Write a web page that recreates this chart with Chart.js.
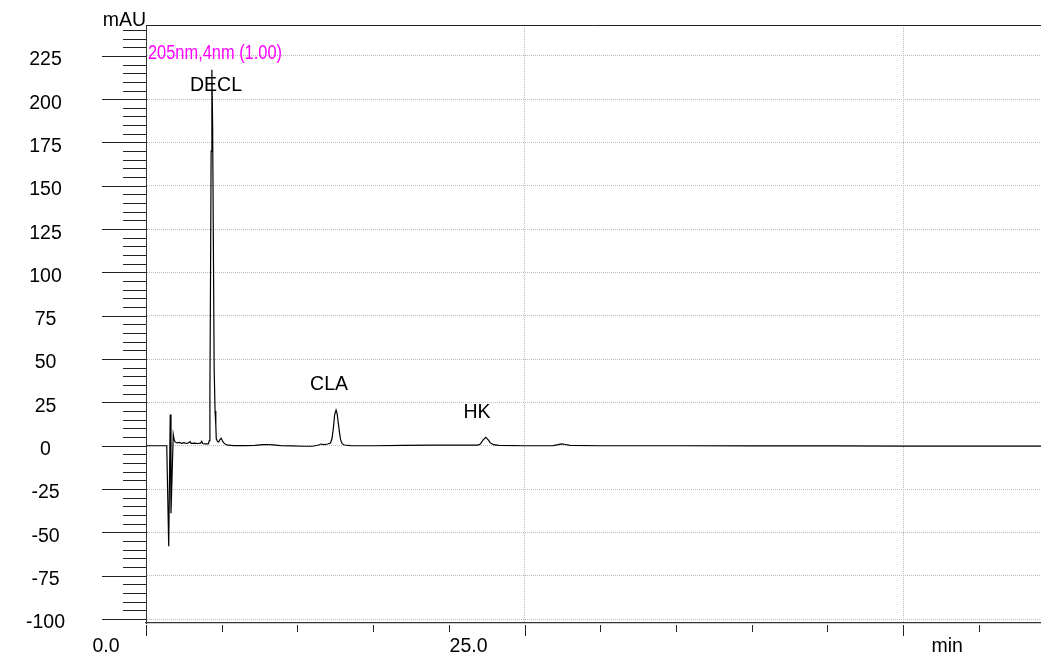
<!DOCTYPE html>
<html>
<head>
<meta charset="utf-8">
<script src="https://cdn.jsdelivr.net/npm/chart.js@4.4.1/dist/chart.umd.min.js"></script>
<style>
  html, body { margin: 0; padding: 0; background: #fff; }
  #chromatogram { display: block; }
</style>
</head>
<body>
<canvas id="chromatogram" width="1041" height="658"></canvas>
<script>
// retention time (min) and detector signal (mAU)
const retentionTime = [
    0, 1.30, 1.37, 1.50, 1.60, 1.65, 1.80, 1.86, 1.92, 2.05, 2.2, 2.35, 2.5, 2.65, 2.8, 2.91, 2.98,
    3.2, 3.4, 3.6, 3.68, 3.74, 3.9, 4.12, 4.18, 4.22, 4.26, 4.30, 4.35, 4.40, 4.45, 4.50, 4.56,
    4.61, 4.64, 4.72, 4.80, 4.88, 4.96, 5.04, 5.12, 5.25, 5.4, 5.8, 6.5, 7.2, 7.7, 8.0, 8.4, 8.9,
    9.6, 10.4, 11.0, 11.4, 11.55, 11.75, 12.0, 12.18, 12.28, 12.37, 12.46, 12.55, 12.62, 12.70,
    12.77, 12.85, 12.95, 13.1, 13.5, 15, 17, 19, 21, 21.9, 22.08, 22.25, 22.44, 22.6, 22.75,
    22.95, 23.3, 25, 26.9, 27.2, 27.45, 27.7, 28.0, 30, 35, 40, 45, 50, 55, 59.1
];
const absorbance = [
    0, 0, 0, -58, 18, -39, 6.5, 3.5, 2.2, 1.6, 1.9, 1.4, 1.8, 1.3, 1.6, 2.4, 1.4,
    1.5, 1.3, 1.5, 2.6, 1.3, 1.1, 1.1, 3, 30, 95, 170, 217, 185, 115, 45, 20,
    12, 4, 2.5, 2.2, 3.5, 4.3, 3.0, 1.8, 0.8, 0.3, 0.1, 0.1, 0.2, 0.6, 0.7, 0.5, 0.1,
    -0.1, -0.3, -0.3, 0.4, 1.0, 0.7, 1.0, 1.6, 4, 10, 18, 20.6, 18.5, 13,
    8, 3.5, 1.2, 0.4, 0.1, 0, 0.2, 0.3, 0.3, 0.4, 1, 3.2, 4.8, 3.4, 1.5,
    0.6, 0.2, 0, 0.1, 0.6, 1.1, 0.7, 0.2, 0, 0, -0.1, -0.1, -0.2, -0.2, -0.2
];

const peakNames = ['DECL', 'CLA', 'HK'];
const peakLabelTime = [4.62, 12.09, 21.86];
const peakLabelValue = [207.6, 35, 19.3];

const yTickLabels = ['-100', '-75', '-50', '-25', '0', '25', '50', '75', '100', '125', '150', '175', '200', '225'];
const xTickLabels = ['0.0', '25.0', 'min'];
const xTickValues = [0, 25, 50];
const channelLabel = '205nm,4nm (1.00)';
const yUnit = 'mAU';

const FONT = 'Liberation Sans, Arial, sans-serif';
const GRID = '#bdbdbd';

const points = retentionTime.map((t, i) => ({ x: t, y: absorbance[i] }));

const decorations = {
    id: 'decorations',
    afterDraw(chart) {
        const ctx = chart.ctx;
        const area = chart.chartArea;
        const xs = chart.scales.x;
        const ys = chart.scales.y;
        ctx.save();
        ctx.strokeStyle = '#222';
        ctx.lineWidth = 1;

        // top frame line
        ctx.beginPath();
        ctx.moveTo(area.left, area.top + 0.5);
        ctx.lineTo(area.right, area.top + 0.5);
        ctx.stroke();

        // y ticks, long every 25, short every 5
        ys.ticks.forEach(tk => {
            const py = Math.round(ys.getPixelForValue(tk.value)) + 0.5;
            const len = tk.value % 25 === 0 ? 44 : 23;
            ctx.beginPath();
            ctx.moveTo(area.left - len, py);
            ctx.lineTo(area.left, py);
            ctx.stroke();
        });

        // x ticks below the axis
        xs.ticks.forEach(tk => {
            const px = Math.round(xs.getPixelForValue(tk.value)) + 0.5;
            const len = tk.value % 25 === 0 ? 11 : 7;
            ctx.beginPath();
            ctx.moveTo(px, area.bottom + 2);
            ctx.lineTo(px, area.bottom + 2 + len);
            ctx.stroke();
        });

        ctx.fillStyle = '#000';
        ctx.font = '19.5px ' + FONT;
        ctx.textBaseline = 'middle';

        // x labels sit beside their ticks, like the instrument printout
        const xShift = [-40, -56, 44];
        ctx.textAlign = 'center';
        xTickLabels.forEach((txt, i) => {
            ctx.fillText(txt, xs.getPixelForValue(xTickValues[i]) + xShift[i], area.bottom + 24);
        });

        ctx.textAlign = 'right';
        ctx.fillText(yUnit, area.left, area.top - 4);

        // peak names
        ctx.textAlign = 'center';
        peakNames.forEach((name, i) => {
            ctx.fillText(name, xs.getPixelForValue(peakLabelTime[i]), ys.getPixelForValue(peakLabelValue[i]));
        });

        // channel label in a condensed face
        ctx.fillStyle = '#ff00ff';
        ctx.font = '20px ' + FONT;
        ctx.textAlign = 'left';
        ctx.translate(area.left + 2, area.top + 28);
        ctx.scale(0.82, 1);
        ctx.fillText(channelLabel, 0, 0);
        ctx.restore();
    }
};

new Chart(document.getElementById('chromatogram'), {
    type: 'line',
    data: {
        datasets: [{
            data: points,
            borderColor: '#000',
            borderWidth: 1.2,
            pointRadius: 0,
            tension: 0,
            fill: false
        }]
    },
    options: {
        responsive: false,
        animation: false,
        devicePixelRatio: 1,
        layout: { padding: { top: 25, right: 0, bottom: 0, left: 0 } },
        plugins: { legend: { display: false }, tooltip: { enabled: false } },
        scales: {
            x: {
                type: 'linear',
                min: 0,
                max: 59.1,
                afterBuildTicks(scale) {
                    const t = [];
                    for (let v = 0; v <= 55; v += 5) t.push({ value: v });
                    scale.ticks = t;
                },
                afterFit(scale) {
                    scale.height = 35;
                    scale.paddingLeft = 0;
                    scale.paddingRight = 0;
                },
                ticks: { display: false },
                grid: {
                    drawTicks: false,
                    color: c => (c.tick && c.tick.value > 0 && c.tick.value % 25 === 0) ? GRID : 'transparent',
                    lineWidth: 1
                },
                border: { display: true, color: '#333', width: 1.3, dash: [1, 1] }
            },
            y: {
                type: 'linear',
                min: -102.3,
                max: 242.8,
                afterBuildTicks(scale) {
                    const t = [];
                    for (let v = -100; v <= 240; v += 5) t.push({ value: v });
                    scale.ticks = t;
                },
                afterFit(scale) {
                    // the wide label gap must not push the plot area in
                    scale.width = 146;
                    scale.paddingTop = 0;
                    scale.paddingBottom = 0;
                },
                ticks: {
                    autoSkip: false,
                    crossAlign: 'center',
                    padding: 81,
                    labelOffset: 4,
                    color: '#000',
                    font: { family: FONT, size: 19.5 },
                    callback: v => yTickLabels.includes(String(v)) ? String(v) : ''
                },
                grid: {
                    drawTicks: false,
                    color: c => (c.tick && c.tick.value % 25 === 0) ? GRID : 'transparent',
                    lineWidth: 1
                },
                border: { display: true, color: '#333', width: 1, dash: [1, 1] }
            }
        }
    },
    plugins: [decorations]
});
</script>
</body>
</html>
